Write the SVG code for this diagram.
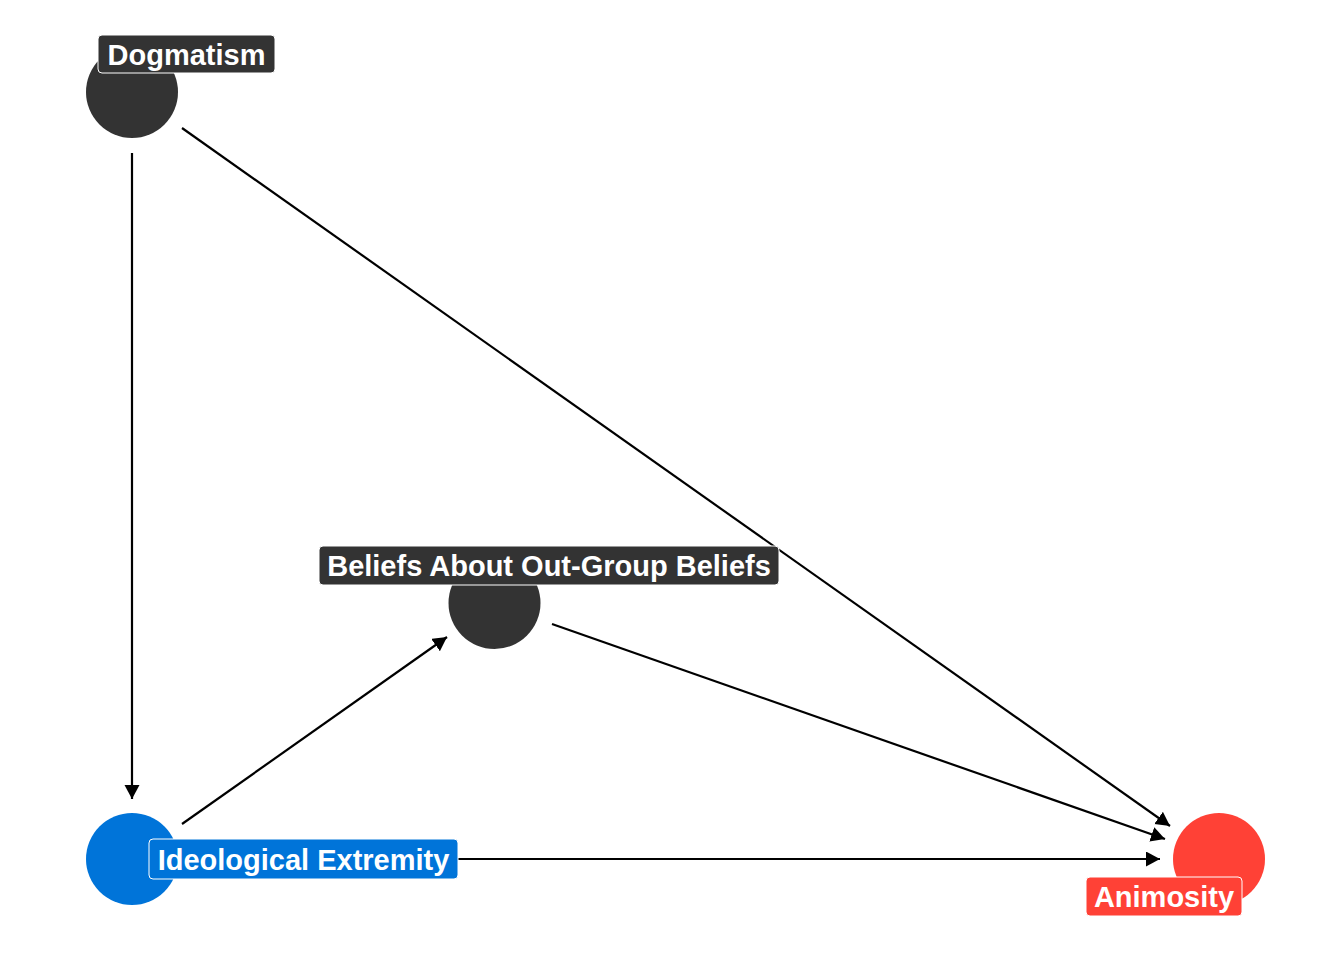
<svg xmlns="http://www.w3.org/2000/svg" width="1344" height="960" viewBox="0 0 1344 960">
<style>
.edge{stroke:#000;stroke-width:2.2;fill:none;marker-end:url(#arr)}
.lbl{font-family:"Liberation Sans",Arial,sans-serif;font-weight:bold;font-size:29px;fill:#fff;text-anchor:middle}
.box{stroke:#fff;stroke-width:1}
</style>
<defs>
<marker id="arr" markerUnits="userSpaceOnUse" markerWidth="16" markerHeight="16" refX="14" refY="7.5" orient="auto" viewBox="0 0 16 16">
<path d="M0,0 L14,7.5 L0,15 z" fill="#000"/>
</marker>
</defs>
<rect width="1344" height="960" fill="#fff"/>
<g id="edges">
<line class="edge" x1="132" y1="153" x2="132" y2="799"/>
<line class="edge" x1="182" y1="128" x2="1170" y2="826"/>
<line class="edge" x1="552" y1="624" x2="1165" y2="839"/>
<line class="edge" x1="182" y1="824" x2="447" y2="637"/>
<line class="edge" x1="182" y1="859" x2="1160" y2="859"/>
</g>
<g id="node-dogmatism">
<circle cx="132" cy="92" r="46" fill="#333333"/>
<rect class="box" x="98" y="35" width="177" height="38" rx="4" fill="#333333"/>
<text class="lbl" x="186.5" y="65">Dogmatism</text>
</g>
<g id="node-beliefs">
<circle cx="494.5" cy="603" r="46" fill="#333333"/>
<rect class="box" x="319" y="546" width="460" height="39" rx="4" fill="#333333"/>
<text class="lbl" x="549" y="576">Beliefs About Out-Group Beliefs</text>
</g>
<g id="node-ideological">
<circle cx="132" cy="859" r="46" fill="#0074D9"/>
<rect class="box" x="149" y="839" width="309" height="40" rx="4" fill="#0074D9"/>
<text class="lbl" x="303.5" y="870">Ideological Extremity</text>
</g>
<g id="node-animosity">
<circle cx="1219" cy="859" r="46" fill="#FF4136"/>
<rect class="box" x="1086" y="877" width="156" height="39" rx="4" fill="#FF4136"/>
<text class="lbl" x="1164" y="907">Animosity</text>
</g>
</svg>
